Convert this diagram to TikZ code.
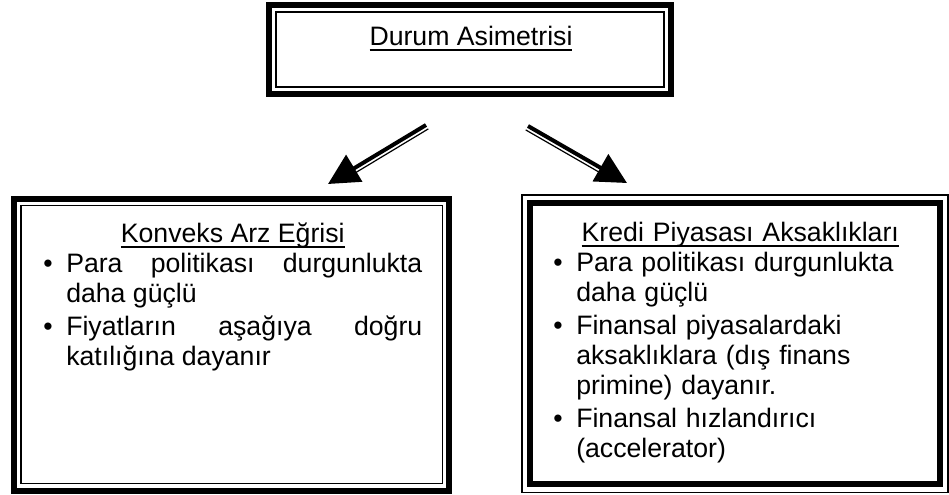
\documentclass[tikz,border=0pt]{standalone}
\usepackage{fontspec}
\setmainfont{Liberation Sans}
\usetikzlibrary{positioning, arrows.meta, calc}

\newcommand{\ulword}[1]{\smash{\setbox0\hbox{#1}\rlap{\rule[-4.2pt]{\wd0}{1.1pt}}\box0}}
\newcommand{\boxtitle}[1]{\parskip=2.25pt\centerline{\ulword{#1}}\vspace{-2.25pt}}
\newcommand{\itm}[1]{\par\noindent\hangindent=17.25pt\hangafter=1\makebox[17.25pt][l]{\textbullet}#1\par}

\begin{document}
\begin{tikzpicture}[
  x=0.75pt, y=-0.75pt,
  frame/.style={draw, inner sep=0pt, outer sep=0pt},
  heavy/.style={line width=4.5pt},
  light/.style={line width=1.1pt},
  ttl/.style={font=\fontsize{20}{22.5}\selectfont, inner sep=0pt, anchor=base},
  boxtxt/.style={font=\fontsize{20}{22.5}\selectfont, inner sep=0pt, anchor=base west},
  shaft/.style={line width=3pt, -{Triangle[length=23pt, width=23pt]}},
  shaftline/.style={line width=0.9pt}
]
  \useasboundingbox (0,0) rectangle (949,494);

  %---------------- TOP BOX ----------------%
  \node[frame, heavy, minimum width=301.5pt, minimum height=66.75pt] (top) at (470,49.5) {};
  \draw[light] ($(top.north west)+(7,7)$) rectangle ($(top.south east)+(-7,-7)$);
  \node[ttl] (toptxt) at (471,45) {\ulword{Durum Asimetrisi}};

  %---------------- LEFT BOX ----------------%
  \node[frame, heavy, minimum width=326.6pt, minimum height=219pt] (konveks) at (231.75,344.5) {};
  \draw[light] ($(konveks.north west)+(7,7)$) rectangle ($(konveks.south east)+(-7,-7)$);
  \node[boxtxt, text width=284.25pt, align=justify] (konvekstxt) at (43,242) {%
    \boxtitle{Konveks Arz Eğrisi}%
    \itm{Para politikası durgunlukta\linebreak daha güçlü}%
    \itm{Fiyatların aşağıya doğru\linebreak katılığına dayanır}};

  %---------------- RIGHT BOX ----------------%
  \node[frame, light, minimum width=319.5pt, minimum height=223.1pt] (kredi) at (735,343.75) {};
  \draw[heavy] ($(kredi.north west)+(8,8)$) rectangle ($(kredi.south east)+(-8,-8)$);
  \node[boxtxt, text width=280.5pt, align=left] (kreditxt) at (553,241) {%
    \boxtitle{Kredi Piyasası Aksaklıkları}%
    \itm{Para politikası durgunlukta\linebreak daha güçlü}%
    \itm{Finansal piyasalardaki\linebreak aksaklıklara (dış finans\linebreak primine) dayanır.}%
    \itm{Finansal hızlandırıcı\linebreak (accelerator)}};

  %---------------- ARROWS ----------------%
  \coordinate (l-from) at (426,125);
  \coordinate (l-to) at (328,184);
  \coordinate (r-from) at (528,126);
  \coordinate (r-to) at (627,183);

  \draw[shaftline] ($(l-from)+(2.3,3.9)$) -- ($(l-to)!0.25!(l-from)+(2.3,3.9)$);
  \draw[shaft] (l-from) -- (l-to);
  \draw[shaftline] ($(r-from)+(-2.3,3.9)$) -- ($(r-to)!0.25!(r-from)+(-2.3,3.9)$);
  \draw[shaft] (r-from) -- (r-to);

\end{tikzpicture}
\end{document}
